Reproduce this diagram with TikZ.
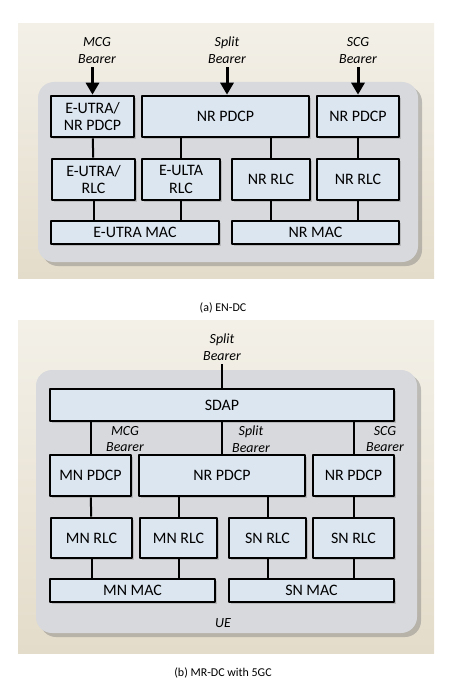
\documentclass[tikz,border=0pt]{standalone}
\usepackage{fontspec}
\setmainfont{Carlito}
\usetikzlibrary{arrows.meta,shadows}
\definecolor{boxblue}{HTML}{DCE6F1}
\definecolor{uegray}{HTML}{D7D9DC}
\definecolor{beigetop}{HTML}{F3F0E8}
\definecolor{beigebot}{HTML}{E4DCCA}
\begin{document}
\begin{tikzpicture}[x=1bp, y=-1bp, line join=round, >={Triangle[width=13bp,length=12bp]},
	layer/.style={draw, line width=2.6bp, fill=boxblue, inner sep=0pt, align=center,
		font=\fontsize{16}{18}\selectfont,
		drop shadow={shadow xshift=2bp, shadow yshift=-2bp, opacity=.35}},
	bearer/.style={align=center, font=\fontsize{14}{17}\selectfont\itshape},
	link/.style={line width=2bp},
	feed/.style={->, line width=3bp}]
	\useasboundingbox (0,0) rectangle (452,679);
	% (a) EN-DC
	\shade[top color=beigetop, bottom color=beigebot] (18,24) rectangle (434,278);
	\fill[uegray, rounded corners=16bp, drop shadow={shadow xshift=4bp, shadow yshift=-4bp, opacity=.45}] (38,82) rectangle (418,262);
	\node[layer, minimum width=83bp, minimum height=41bp] (pdcpA) at (92.5,116.5) {E-UTRA/\\NR PDCP};
	\node[layer, minimum width=167bp, minimum height=41bp] (pdcpB) at (225.5,116.5) {NR PDCP};
	\node[layer, minimum width=82bp, minimum height=41bp] (pdcpC) at (358,116.5) {NR PDCP};
	\node[layer, minimum width=83bp, minimum height=41bp] (rlcA) at (93.5,179.5) {E-UTRA/\\RLC};
	\node[layer, minimum width=78bp, minimum height=41bp] (rlcB) at (181,179.5) {E-ULTA\\RLC};
	\node[layer, minimum width=78bp, minimum height=41bp] (rlcC) at (271,179.5) {NR RLC};
	\node[layer, minimum width=82bp, minimum height=41bp] (rlcD) at (358,179.5) {NR RLC};
	\node[layer, minimum width=168bp, minimum height=23bp] (macA) at (135,232.5) {E-UTRA MAC};
	\node[layer, minimum width=167bp, minimum height=23bp] (macB) at (315.5,232.5) {NR MAC};
	\node[bearer] (mcgA) at (97,50.5) {MCG\\Bearer};
	\node[bearer] (splitA) at (227,50.5) {Split\\Bearer};
	\node[bearer] (scgA) at (358,50.5) {SCG\\Bearer};
	\draw[feed] (mcgA.south -| pdcpA) -- (pdcpA);
	\draw[feed] (splitA) -- (pdcpB.north -| splitA);
	\draw[feed] (scgA) -- (pdcpC);
	\draw[link] (pdcpA) -- (rlcA);
	\draw[link] (pdcpB.south -| rlcB) -- (rlcB);
	\draw[link] (pdcpB.south -| rlcC) -- (rlcC);
	\draw[link] (pdcpC) -- (rlcD);
	\draw[link] (rlcA) -- (macA.north -| rlcA);
	\draw[link] (rlcB) -- (macA.north -| rlcB);
	\draw[link] (rlcC) -- (macB.north -| rlcC);
	\draw[link] (rlcD) -- (macB.north -| rlcD);
	\node[font=\fontsize{12}{14}\selectfont] (capA) at (223,308) {(a) EN-DC};
	% (b) MR-DC with 5GC
	\shade[top color=beigetop, bottom color=beigebot] (18,320) rectangle (434,653);
	\fill[uegray, rounded corners=16bp, drop shadow={shadow xshift=4bp, shadow yshift=-4bp, opacity=.45}] (36,370) rectangle (417,633);
	\node[layer, minimum width=344bp, minimum height=32bp] (sdap) at (222,405) {SDAP};
	\node[layer, minimum width=81bp, minimum height=41bp] (mnPdcp) at (90.5,475.5) {MN PDCP};
	\node[layer, minimum width=166bp, minimum height=41bp] (nrPdcp) at (222,475.5) {NR PDCP};
	\node[layer, minimum width=81bp, minimum height=41bp] (scgPdcp) at (353.5,475.5) {NR PDCP};
	\node[layer, minimum width=81bp, minimum height=40bp] (mnRlcA) at (91.5,538) {MN RLC};
	\node[layer, minimum width=77bp, minimum height=40bp] (mnRlcB) at (178.5,538) {MN RLC};
	\node[layer, minimum width=77bp, minimum height=40bp] (snRlcA) at (267.5,538) {SN RLC};
	\node[layer, minimum width=81bp, minimum height=40bp] (snRlcB) at (353.5,538) {SN RLC};
	\node[layer, minimum width=165bp, minimum height=23bp] (mnMac) at (132.5,590.5) {MN MAC};
	\node[layer, minimum width=165bp, minimum height=23bp] (snMac) at (311.5,590.5) {SN MAC};
	\node[bearer] (splitTop) at (222,347.5) {Split\\Bearer};
	\node[bearer] (mcgB) at (125,439) {MCG\\Bearer};
	\node[bearer] (splitB) at (251,439) {Split\\Bearer};
	\node[bearer] (scgB) at (385,439) {SCG\\Bearer};
	\node[font=\fontsize{14}{17}\selectfont\itshape] (ue) at (223,623) {UE};
	\draw[link] (splitTop) -- (sdap);
	\draw[link] (sdap.south -| mnPdcp) -- (mnPdcp);
	\draw[link] (sdap) -- (nrPdcp);
	\draw[link] (sdap.south -| scgPdcp) -- (scgPdcp);
	\draw[link] (mnPdcp) -- (mnRlcA);
	\draw[link] (nrPdcp.south -| mnRlcB) -- (mnRlcB);
	\draw[link] (nrPdcp.south -| snRlcA) -- (snRlcA);
	\draw[link] (scgPdcp) -- (snRlcB);
	\draw[link] (mnRlcA) -- (mnMac.north -| mnRlcA);
	\draw[link] (mnRlcB) -- (mnMac.north -| mnRlcB);
	\draw[link] (snRlcA) -- (snMac.north -| snRlcA);
	\draw[link] (snRlcB) -- (snMac.north -| snRlcB);
	\node[font=\fontsize{12}{14}\selectfont] (capB) at (223,673) {(b) MR-DC with 5GC};
\end{tikzpicture}
\end{document}
